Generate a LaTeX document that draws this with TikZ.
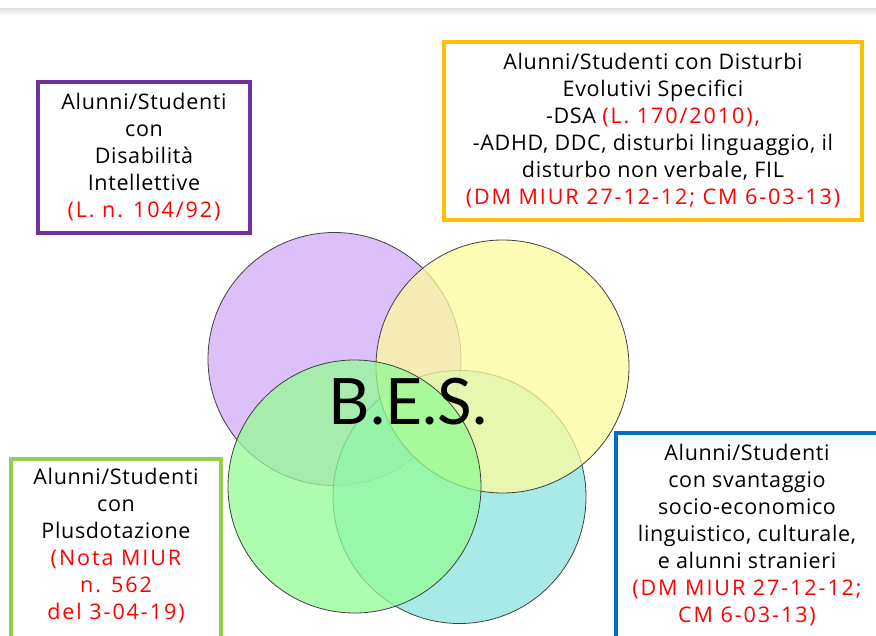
\documentclass[tikz,border=0pt]{standalone}
\usepackage{fontspec}
\setmainfont{Open Sans}[LetterSpace=3]
\newfontfamily\lawfont{Open Sans}[LetterSpace=9]
\newfontfamily\besfont{Lato}
\definecolor{cpurple}{RGB}{208,171,248}
\definecolor{cyellow}{RGB}{252,252,157}
\definecolor{ccyan}{RGB}{139,227,224}
\definecolor{cgreen}{RGB}{147,252,147}
\definecolor{bpurple}{RGB}{112,48,160}
\definecolor{byellow}{RGB}{255,192,0}
\definecolor{bgreen}{RGB}{146,208,80}
\definecolor{bblue}{RGB}{0,112,192}
\definecolor{lawred}{RGB}{255,0,0}
\newcommand{\lawtxt}[1]{{\lawfont\color{lawred}#1}}
\begin{document}
\begin{tikzpicture}[x=1pt,y=-1pt,
  venn/.style={circle, minimum size=253pt, inner sep=0pt, draw=black!75, line width=0.8pt, fill opacity=0.75},
  frame/.style={draw, line width=3.5pt, inner sep=0pt},
  txt/.style={align=center, font=\fontsize{21.5}{27}\selectfont, inner sep=0pt}]
\useasboundingbox (0,0) rectangle (876,635);
\shade[top color=black!12, bottom color=white] (0,8) rectangle (876,16);
% circles
\node[venn, fill=cpurple] (cpur) at (334.5,359) {};
\node[venn, fill=ccyan] (ccya) at (459.5,497) {};
\node[venn, fill=cyellow] (cyel) at (502.5,366.5) {};
\node[venn, fill=cgreen] (cgre) at (354.5,486.5) {};
\node[font=\besfont\fontsize{64}{64}\selectfont, inner sep=0pt] (bes) at (408,402) {B.E.S.};
% boxes
\node[frame, draw=bpurple, minimum width=212pt, minimum height=151pt] (pbox) at (144,157.5) {};
\node[frame, draw=byellow, minimum width=418pt, minimum height=178pt] (ybox) at (653,131) {};
\node[frame, draw=bgreen, minimum width=210pt, minimum height=200pt] (gbox) at (116,559) {};
\node[frame, draw=bblue, minimum width=280pt, minimum height=220pt] (bbox) at (756,543) {};
% texts
\node[txt] (ptxt) at (144,157.5) {Alunni/Studenti\\con\\Disabilità\\Intellettive\\\lawtxt{(L. n. 104/92)}};
\node[txt] (ytxt) at (653,131) {Alunni/Studenti con Disturbi\\Evolutivi Specifici\\-DSA \lawtxt{(L. 170/2010),}\\-ADHD, DDC, disturbi linguaggio, il\\disturbo non verbale, FIL\\\lawtxt{(DM MIUR 27-12-12; CM 6-03-13)}};
\node[txt] (gtxt) at (116,546) {Alunni/Studenti\\con\\Plusdotazione\\\lawtxt{(Nota MIUR}\\\lawtxt{n. 562}\\\lawtxt{del 3-04-19)}};
\node[txt] (btxt) at (747,535) {Alunni/Studenti\\con svantaggio\\socio-economico\\linguistico, culturale,\\e alunni stranieri\\\lawtxt{(DM MIUR 27-12-12;}\\\lawtxt{CM 6-03-13)}};
\end{tikzpicture}
\end{document}
